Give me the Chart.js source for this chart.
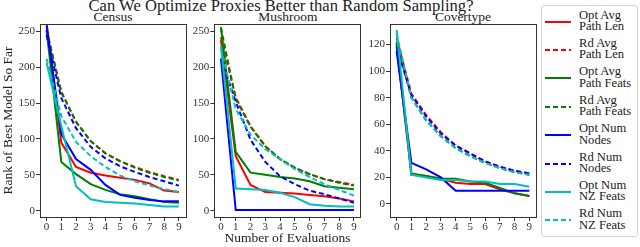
<!DOCTYPE html>
<html>
<head>
<meta charset="utf-8">
<title>Can We Optimize Proxies Better than Random Sampling?</title>
<script src="https://cdn.jsdelivr.net/npm/chart.js"></script>
<style>
  body { margin: 0; width: 640px; height: 247px; overflow: hidden; background: #fff;
         font-family: "Liberation Serif", "DejaVu Serif", serif; color: #222; }
  canvas { position: absolute; top: 0; }
  .t { position: absolute; white-space: nowrap; transform: translateX(-50%); line-height: 1; }
  #legend { position: absolute; left: 541px; top: 5px; width: 97px; height: 232px;
            border: 1px solid #d4d4d4; border-radius: 3px; box-sizing: border-box; }
  .lab { position: absolute; left: 37px; font-size: 12.6px; line-height: 11.5px; white-space: nowrap; }
  svg { position: absolute; left: 0; }
</style>
</head>
<body>
<div class="t" style="left:281px; top:-2px; font-size:16.6px;">Can We Optimize Proxies Better than Random Sampling?</div>
<div class="t" style="left:113px; top:10px; font-size:13.5px;">Census</div>
<div class="t" style="left:288px; top:10px; font-size:13.5px;">Mushroom</div>
<div class="t" style="left:463px; top:10px; font-size:13.5px;">Covertype</div>
<canvas id="c1" width="190" height="247" style="left:0"></canvas>
<canvas id="c2" width="175" height="247" style="left:190px"></canvas>
<canvas id="c3" width="175" height="247" style="left:365px"></canvas>
<div id="legend"></div>
<script>
const evals = [0, 1, 2, 3, 4, 5, 6, 7, 8, 9];
const xTicks = [0, 1, 2, 3, 4, 5, 6, 7, 8, 9];
const rankTicks = [0, 50, 100, 150, 200, 250];
const coverTicks = [0, 20, 40, 60, 80, 100, 120];

const seriesLabels = [
  ['Opt Avg', 'Path Len'], ['Rd Avg', 'Path Len'],
  ['Opt Avg', 'Path Feats'], ['Rd Avg', 'Path Feats'],
  ['Opt Num', 'Nodes'], ['Rd Num', 'Nodes'],
  ['Opt Num', 'NZ Feats'], ['Rd Num', 'NZ Feats']
];
const seriesColors = ['#ff0000', '#ff0000', '#008000', '#008000', '#0000ff', '#0000ff', '#00bfbf', '#00bfbf'];
const seriesDashed = [false, true, false, true, false, true, false, true];

// Census
const censusOptPathLen   = [262, 95, 61, 53, 49, 46, 43, 38, 28, 26];
const censusRdPathLen    = [252, 166, 124, 97, 80, 69, 61, 54, 48, 43];
const censusOptPathFeats = [252, 68, 51, 37, 29, 23, 20, 16, 12, 11];
const censusRdPathFeats  = [251, 165, 124, 97, 80, 69, 60, 53, 47, 42];
const censusOptNodes     = [258, 107, 72, 57, 36, 22, 18, 15, 13, 13];
const censusRdNodes      = [245, 157, 115, 89, 73, 62, 54, 47, 41, 35];
const censusOptNZ        = [206, 118, 34, 16, 12, 11, 10, 8, 6, 6];
const censusRdNZ         = [212, 132, 96, 76, 61, 49, 41, 35, 30, 26];

// Mushroom
const mushOptPathLen   = [238, 76, 36, 26, 25, 24, 22, 20, 17, 13];
const mushRdPathLen    = [242, 158, 118, 90, 72, 60, 51, 44, 40, 36];
const mushOptPathFeats = [256, 82, 53, 50, 47, 45, 41, 34, 32, 30];
const mushRdPathFeats  = [255, 156, 117, 90, 72, 60, 51, 44, 39, 35];
const mushOptNodes     = [212, 1, 1, 1, 1, 1, 1, 1, 1, 1];
const mushRdNodes      = [212, 152, 99, 68, 48, 37, 28, 23, 17, 11];
const mushOptNZ        = [230, 31, 30, 29, 25, 19, 9, 7, 6, 6];
const mushRdNZ         = [226, 142, 106, 86, 72, 58, 47, 37, 29, 21];

// Covertype
const coverOptPathLen   = [120, 22, 21, 19, 16, 15, 15, 11, 8, 6];
const coverRdPathLen    = [125, 83, 67, 54, 44, 38, 32, 28, 25, 23];
const coverOptPathFeats = [121, 23, 21, 19, 19, 17, 16, 12, 8, 6];
const coverRdPathFeats  = [122, 80, 63, 51, 42, 36, 31, 27, 24, 22];
const coverOptNodes     = [115, 31, 26, 20, 10, 10, 10, 10, 10, 10];
const coverRdNodes      = [118, 82, 66, 53, 44, 38, 32, 28, 25, 23];
const coverOptNZ        = [131, 22, 20, 18, 18, 17, 17, 15, 15, 13];
const coverRdNZ         = [128, 80, 63, 51, 42, 36, 31, 27, 24, 22];

const serif = '"Liberation Serif", "DejaVu Serif", serif';
const ink = '#333';

// spines on all four sides
const frame = {
  id: 'frame',
  afterDatasetsDraw(chart) {
    const a = chart.chartArea, ctx = chart.ctx;
    ctx.save();
    ctx.strokeStyle = ink;
    ctx.lineWidth = 1;
    ctx.strokeRect(Math.round(a.left) + 0.5, Math.round(a.top) + 0.5,
                   Math.round(a.right - a.left), Math.round(a.bottom - a.top));
    ctx.restore();
  }
};

function makeChart(id, series, yMin, yMax, yTicks, yAxisW, padRight, yTitle, xTitle) {
  const datasets = series.map((vals, i) => ({
    label: seriesLabels[i].join(' '),
    data: evals.map((e, k) => ({ x: e, y: vals[k] })),
    borderColor: seriesColors[i],
    borderWidth: 2,
    borderDash: seriesDashed[i] ? [5, 3] : [],
    pointRadius: 0,
    tension: 0,
    fill: false,
    order: -i
  }));
  new Chart(document.getElementById(id), {
    type: 'line',
    data: { datasets },
    plugins: [frame],
    options: {
      responsive: false,
      animation: false,
      layout: { padding: { top: 24, right: padRight, left: 0, bottom: 0 } },
      plugins: { legend: { display: false }, tooltip: { enabled: false } },
      scales: {
        x: {
          type: 'linear', min: -0.45, max: 9.45,
          afterBuildTicks: s => { s.ticks = xTicks.map(v => ({ value: v })); },
          afterFit: s => { s.height = 30; },
          ticks: { font: { family: serif, size: 11 }, color: ink, padding: 0, maxRotation: 0, autoSkip: false },
          grid: { drawOnChartArea: false, tickLength: 4, color: ink },
          border: { display: false },
          title: { display: !!xTitle, text: xTitle || '', font: { family: serif, size: 13.5 }, color: '#222', padding: 0 }
        },
        y: {
          type: 'linear', min: yMin, max: yMax,
          afterBuildTicks: s => { s.ticks = yTicks.map(v => ({ value: v })); },
          afterFit: s => { s.width = yAxisW; },
          ticks: { font: { family: serif, size: 11 }, color: ink, padding: 1 },
          grid: { drawOnChartArea: false, tickLength: 4, color: ink },
          border: { display: false },
          title: { display: !!yTitle, text: yTitle || '', font: { family: serif, size: 13.5 }, color: '#222', padding: 0 }
        }
      }
    }
  });
}

makeChart('c1', [censusOptPathLen, censusRdPathLen, censusOptPathFeats, censusRdPathFeats,
                 censusOptNodes, censusRdNodes, censusOptNZ, censusRdNZ],
          -8.8, 260.4, rankTicks, 40, 4.5, 'Rank of Best Model So Far', null);
makeChart('c2', [mushOptPathLen, mushRdPathLen, mushOptPathFeats, mushRdPathFeats,
                 mushOptNodes, mushRdNodes, mushOptNZ, mushRdNZ],
          -8.8, 260.4, rankTicks, 24.3, 4.4, null, 'Number of Evaluations');
makeChart('c3', [coverOptPathLen, coverRdPathLen, coverOptPathFeats, coverRdPathFeats,
                 coverOptNodes, coverRdNodes, coverOptNZ, coverRdNZ],
          -9.8, 135.5, coverTicks, 25, 4, null, null);

// legend
const legend = document.getElementById('legend');
seriesLabels.forEach((lines, i) => {
  const cy = 15.5 + i * 28.4;
  const svg = document.createElementNS('http://www.w3.org/2000/svg', 'svg');
  svg.setAttribute('width', '34'); svg.setAttribute('height', '6');
  svg.style.top = (cy - 3) + 'px';
  const ln = document.createElementNS('http://www.w3.org/2000/svg', 'line');
  ln.setAttribute('x1', '3'); ln.setAttribute('x2', '29');
  ln.setAttribute('y1', '3'); ln.setAttribute('y2', '3');
  ln.setAttribute('stroke', seriesColors[i]); ln.setAttribute('stroke-width', '2');
  if (seriesDashed[i]) ln.setAttribute('stroke-dasharray', '5 3');
  svg.appendChild(ln);
  legend.appendChild(svg);
  const lab = document.createElement('div');
  lab.className = 'lab';
  lab.style.top = (cy - 12) + 'px';
  lab.innerHTML = lines.join('<br>');
  legend.appendChild(lab);
});
</script>
</body>
</html>
